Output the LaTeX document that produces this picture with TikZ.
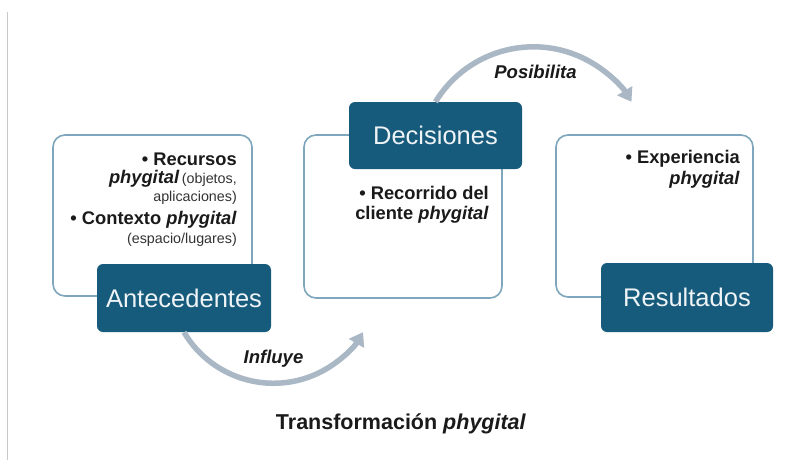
\documentclass[tikz,border=0pt]{standalone}
\usepackage{fontspec}
\setmainfont{Liberation Sans}
\usetikzlibrary{arrows.meta}
\definecolor{darkbox}{HTML}{175B7C}
\definecolor{outline}{HTML}{7EA6BC}
\definecolor{arrowc}{HTML}{AAB8C6}
\definecolor{txt}{HTML}{1A1A1A}
\definecolor{boxtxt}{HTML}{EEF3F6}
\definecolor{sideline}{HTML}{C8C8C8}
\definecolor{smalltxt}{HTML}{333333}
\tikzset{
  framebox/.style={draw=outline, line width=1.6pt, rounded corners=12pt, fill=white},
  labelbox/.style={fill=darkbox, rounded corners=6pt, text=boxtxt, font=\fontsize{25.5}{30}\selectfont, inner sep=0pt},
  bodytext/.style={text=txt, inner sep=0pt, anchor=base east},
  bigb/.style={font=\fontsize{18.3}{22}\bfseries\selectfont},
  smallt/.style={font=\fontsize{14.3}{17}\selectfont, text=smalltxt},
  flow/.style={draw=arrowc, line width=5.5pt, -{Triangle[width=17pt,length=13pt]}},
  flowlabel/.style={text=txt, font=\fontsize{18.5}{22}\bfseries\itshape\selectfont, inner sep=0pt, anchor=base}
}
\begin{document}
\begin{tikzpicture}[x=1pt,y=1pt]
\useasboundingbox (0,0) rectangle (806,-464);
\fill[white] (0,0) rectangle (806,-464);
\draw[sideline, line width=1pt] (7,-12) -- (7,-460);

% outline frames
\draw[framebox] (53,-135) rectangle (252,-296);
\draw[framebox] (304,-135) rectangle (502,-298);
\draw[framebox] (556,-135) rectangle (753,-297);

% label boxes
\node[labelbox, minimum width=174pt, minimum height=68pt] (ant) at (184,-298) {Antecedentes};
\node[labelbox, minimum width=173pt, minimum height=67pt] (dec) at (435.5,-135.5) {Decisiones};
\node[labelbox, minimum width=172pt, minimum height=69pt] (res) at (687,-297.5) {Resultados};

% left text
\node[bodytext, bigb] (l1) at (237,-165) {• Recursos};
\node[bodytext] (l2) at (237,-183) {{\fontsize{18.3}{22}\bfseries\itshape\selectfont phygital} {\fontsize{14.3}{17}\selectfont\color{smalltxt}(objetos,}};
\node[bodytext, smallt] (l3) at (237,-201) {aplicaciones)};
\node[bodytext, bigb] (l4) at (237,-224) {• Contexto \textit{phygital}};
\node[bodytext, smallt] (l5) at (237,-243) {(espacio/lugares)};

% middle text
\node[bodytext, bigb] (m1) at (489,-199) {• Recorrido del};
\node[bodytext, bigb] (m2) at (489,-219) {cliente \textit{phygital}};

% right text
\node[bodytext, bigb] (r1) at (740,-163) {• Experiencia};
\node[bodytext, bigb] (r2) at (740,-184) {\textit{phygital}};

% arrows
\draw[flow] (ant.south) arc[start angle=210.6, end angle=329.4, radius=104];
\draw[flow] (dec.north) arc[start angle=148.6, end angle=31.4, radius=114.8];

\node[flowlabel] (infl) at (273.5,-363) {Influye};
\node[flowlabel] (posi) at (535.5,-78) {Posibilita};

\node[text=txt, font=\fontsize{21.5}{25}\bfseries\selectfont, anchor=base, inner sep=0pt] (title) at (401,-429) {Transformación \textit{phygital}};
\end{tikzpicture}
\end{document}
